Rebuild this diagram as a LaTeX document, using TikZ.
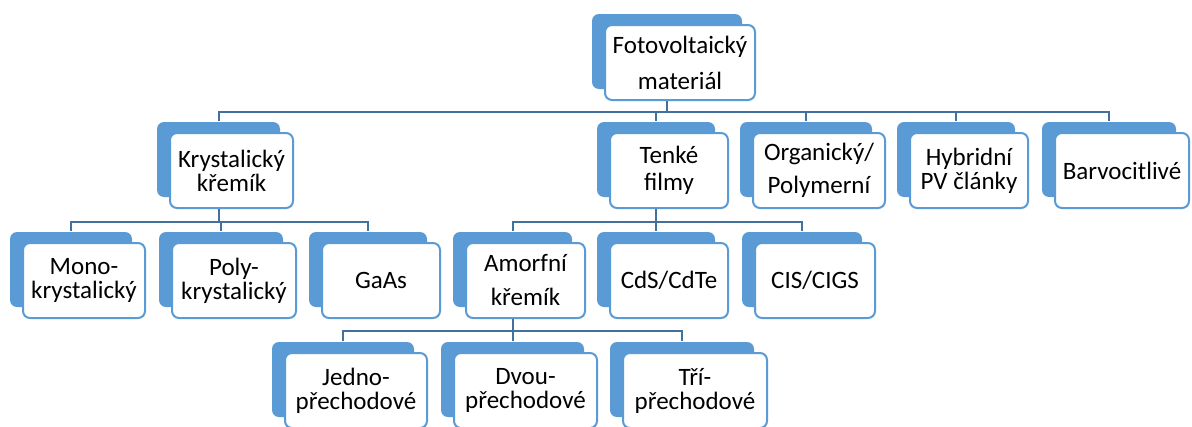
\documentclass[tikz,border=0pt]{standalone}
\usepackage{fontspec}
\setmainfont{Carlito}
\usetikzlibrary{backgrounds,shadows}

\definecolor{pvblue}{RGB}{91,155,213}
\definecolor{pvline}{RGB}{65,113,156}

\tikzset{
    pvbox/.style={rectangle, draw=pvblue, line width=2pt, fill=white, rounded corners=7pt,
        minimum height=75pt, align=center, inner sep=2pt,
        font=\fontsize{25}{24}\selectfont,
        general shadow={fill=pvblue, draw=none, shadow xshift=-13pt, shadow yshift=11pt}},
    conn/.style={draw=pvline, line width=2pt}
}

\begin{document}
\begin{tikzpicture}[x=1pt, y=-1pt]
    \useasboundingbox (0,0) rectangle (1192,426);
    % white background
    \begin{scope}[on background layer]
        \fill [white] (0,0) rectangle (1192,426);
    \end{scope}
    % level 0
    \node (fv) [pvbox, minimum width=150pt] at (680,62.5) {Fotovoltaický\\[12pt]materiál};
    % level 1
    \node (kk) [pvbox, minimum width=123pt] at (231.5,170.5) {Krystalický\\křemík};
    \node (tf) [pvbox, minimum width=118pt] at (669,170.5) {Tenké\\[3pt]filmy};
    \node (org) [pvbox, minimum width=132pt] at (819,170.5) {Organický/\\[9pt]Polymerní};
    \node (hyb) [pvbox, minimum width=118pt] at (969,170.5) {Hybridní\\PV články};
    \node (bar) [pvbox, minimum width=134pt] at (1122,170.5) {Barvocitlivé};
    % level 2
    \node (mono) [pvbox, minimum width=122pt] at (84,280.5) {Mono-\\krystalický};
    \node (poly) [pvbox, minimum width=124pt] at (234,280.5) {Poly-\\krystalický};
    \node (gaas) [pvbox, minimum width=118pt] at (381,280.5) {GaAs};
    \node (am) [pvbox, minimum width=119pt] at (525.5,280.5) {Amorfní\\[10pt]křemík};
    \node (cds) [pvbox, minimum width=118pt] at (669,280.5) {CdS/CdTe};
    \node (cis) [pvbox, minimum width=120pt] at (815,280.5) {CIS/CIGS};
    % level 3
    \node (jedno) [pvbox, minimum width=142pt] at (356,390.5) {Jedno-\\přechodové};
    \node (dvou) [pvbox, minimum width=143pt] at (525.5,390.5) {Dvou-\\přechodové};
    \node (tri) [pvbox, minimum width=144pt] at (695,390.5) {Tří-\\přechodové};
    % connectors
    \draw[conn] ([xshift=-13pt]fv.south) -- ++(0,11) -| ([xshift=-13pt,yshift=11pt]kk.north);
    \draw[conn] ([xshift=-13pt]fv.south) -- ++(0,11) -| ([xshift=-13pt,yshift=11pt]tf.north);
    \draw[conn] ([xshift=-13pt]fv.south) -- ++(0,11) -| ([xshift=-13pt,yshift=11pt]org.north);
    \draw[conn] ([xshift=-13pt]fv.south) -- ++(0,11) -| ([xshift=-13pt,yshift=11pt]hyb.north);
    \draw[conn] ([xshift=-13pt]fv.south) -- ++(0,11) -| ([xshift=-13pt,yshift=11pt]bar.north);
    \draw[conn] ([xshift=-13pt]kk.south) -- ++(0,13) -| ([xshift=-13pt,yshift=11pt]mono.north);
    \draw[conn] ([xshift=-13pt]kk.south) -- ++(0,13) -| ([xshift=-13pt,yshift=11pt]poly.north);
    \draw[conn] ([xshift=-13pt]kk.south) -- ++(0,13) -| ([xshift=-13pt,yshift=11pt]gaas.north);
    \draw[conn] ([xshift=-13pt]tf.south) -- ++(0,13) -| ([xshift=-13pt,yshift=11pt]am.north);
    \draw[conn] ([xshift=-13pt]tf.south) -- ++(0,13) -| ([xshift=-13pt,yshift=11pt]cds.north);
    \draw[conn] ([xshift=-13pt]tf.south) -- ++(0,13) -| ([xshift=-13pt,yshift=11pt]cis.north);
    \draw[conn] ([xshift=-13pt]am.south) -- ++(0,12) -| ([xshift=-13pt,yshift=11pt]jedno.north);
    \draw[conn] ([xshift=-13pt]am.south) -- ++(0,12) -| ([xshift=-13pt,yshift=11pt]dvou.north);
    \draw[conn] ([xshift=-13pt]am.south) -- ++(0,12) -| ([xshift=-13pt,yshift=11pt]tri.north);
\end{tikzpicture}
\end{document}
